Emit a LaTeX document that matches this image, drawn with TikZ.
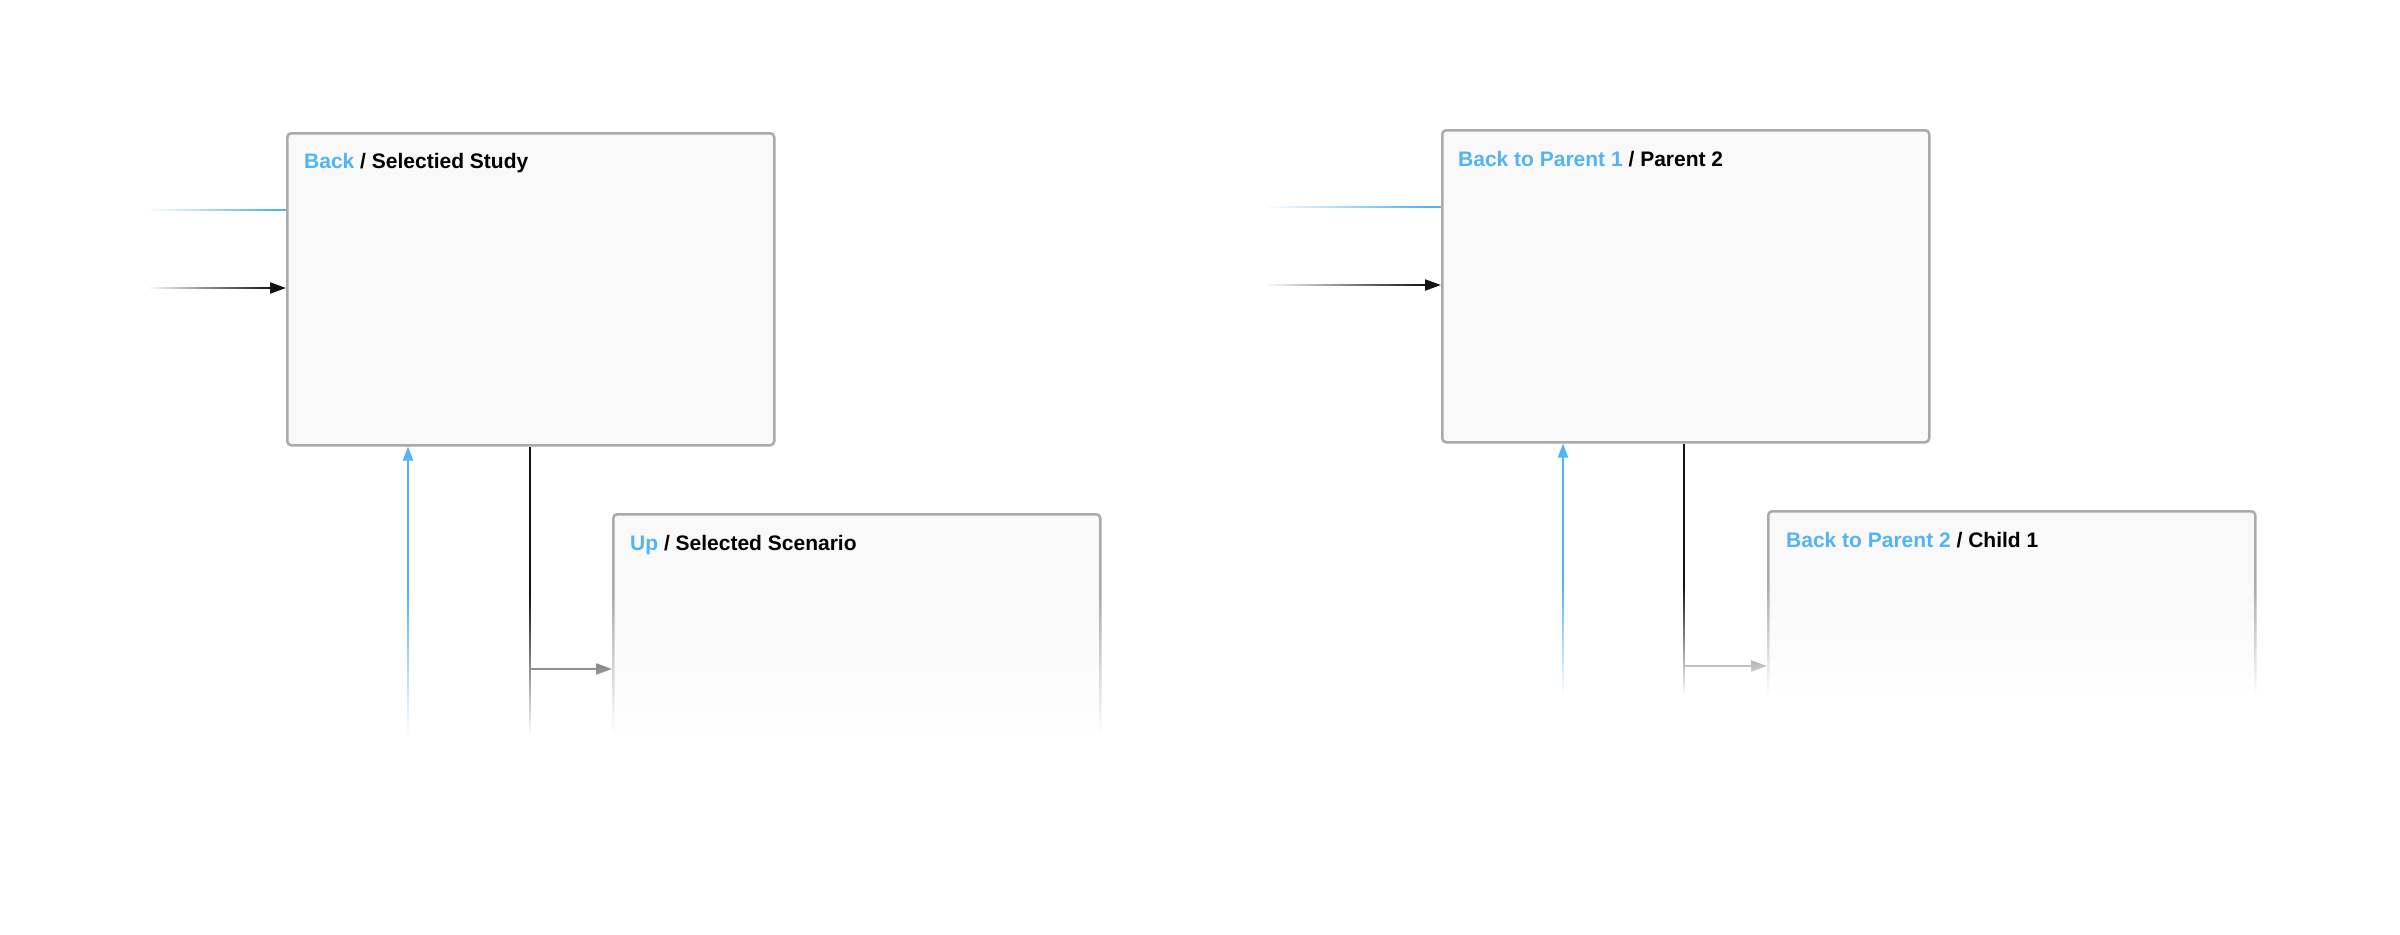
\documentclass[tikz,border=0pt]{standalone}
\usepackage{fontspec}
\setmainfont{Liberation Sans}
\usetikzlibrary{arrows.meta,fadings}
\definecolor{linkblue}{RGB}{82,180,247}
\definecolor{boxline}{RGB}{170,170,170}
\definecolor{boxfill}{RGB}{249,249,249}
\tikzfading[name=fadetowhite, top color=transparent!100, bottom color=transparent!0]
\tikzfading[name=fadefromleft, left color=transparent!0, right color=transparent!100]
\begin{document}
\begin{tikzpicture}[x=1pt,y=-1pt,
  panel/.style={draw=boxline, fill=boxfill, line width=2.5pt, rounded corners=4pt,
    minimum width=487pt, anchor=north west, inner sep=0pt},
  paneltitle/.style={anchor=base west, inner sep=0pt, font=\fontsize{21}{25}\selectfont\bfseries},
  bluewire/.style={draw=linkblue, line width=2.2pt},
  bluearrow/.style={bluewire, -{Triangle[length=14pt,width=10pt]}},
  darkwire/.style={draw=black!92, line width=2.2pt},
  darkarrow/.style={darkwire, -{Triangle[length=16pt,width=11pt]}},
  whiteout/.style={fill=white, draw=none},
]
\useasboundingbox (0,0) rectangle (2400,934);
\fill[white] (0,0) rectangle (2400,934);

% ---------- left group ----------
\node[panel, minimum height=312pt] (b1) at (286,132) {};
\node[paneltitle] (t1) at (304,168) {{\color{linkblue}Back} / Selectied Study};
\node[panel, minimum height=270pt] (b2) at (612,513) {};
\node[paneltitle] (t2) at (630,550) {{\color{linkblue}Up} / Selected Scenario};

\coordinate (l1a) at (150,210);
\coordinate (l1b) at (150,288);
\coordinate (l1up) at (408,745);
\coordinate (l1dn) at (530,745);
\coordinate (l1br) at (530,669);
\draw[bluewire] (l1a) -- (l1a -| b1.west);
\draw[darkarrow] (l1b) -- (l1b -| b1.west);
\draw[bluearrow] (l1up) -- (l1up |- b1.south);
\draw[darkwire] (l1dn |- b1.south) -- (l1dn);
\draw[darkarrow] (l1br) -- (l1br -| b2.west);

% ---------- right group ----------
\node[panel, minimum height=312pt] (b3) at (1441,129) {};
\node[paneltitle] (t3) at (1458,166) {{\color{linkblue}Back to Parent 1} / Parent 2};
\node[panel, minimum height=270pt] (b4) at (1767,510) {};
\node[paneltitle] (t4) at (1786,547) {{\color{linkblue}Back to Parent 2} / Child 1};

\coordinate (r1a) at (1268,207);
\coordinate (r1b) at (1268,285);
\coordinate (r1up) at (1563,705);
\coordinate (r1dn) at (1684,705);
\coordinate (r1br) at (1684,666);
\draw[bluewire] (r1a) -- (r1a -| b3.west);
\draw[darkarrow] (r1b) -- (r1b -| b3.west);
\draw[bluearrow] (r1up) -- (r1up |- b3.south);
\draw[darkwire] (r1dn |- b3.south) -- (r1dn);
\draw[darkarrow] (r1br) -- (r1br -| b4.west);

% ---------- fades ----------
\fill[whiteout, path fading=fadefromleft] (146,195) rectangle (272,300);
\fill[whiteout, path fading=fadefromleft] (1264,195) rectangle (1425,300);
\fill[whiteout, path fading=fadetowhite] (370,595) rectangle (1115,735);
\fill[whiteout] (370,734) rectangle (1115,800);
\fill[whiteout, path fading=fadetowhite] (1530,585) rectangle (2270,695);
\fill[whiteout] (1530,694) rectangle (2270,800);
\end{tikzpicture}
\end{document}
